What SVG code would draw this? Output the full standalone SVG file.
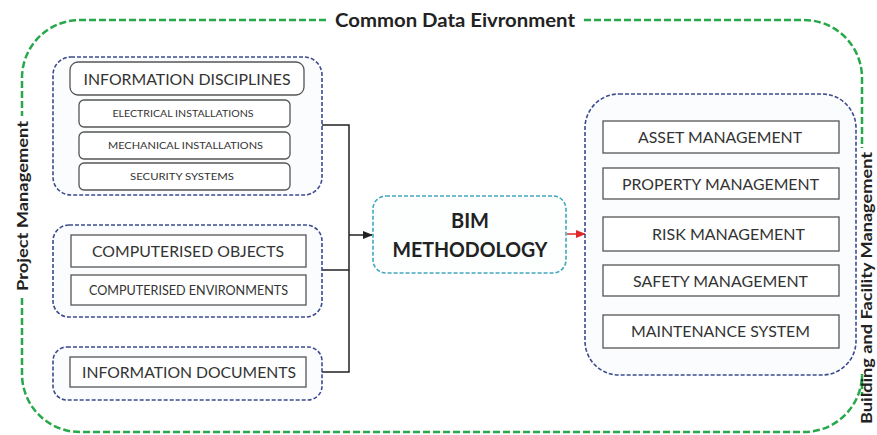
<svg xmlns="http://www.w3.org/2000/svg" width="877" height="435" viewBox="0 0 877 435">
<style>
.cde{fill:none;stroke:#27a84a;stroke-width:2.5;stroke-dasharray:7 3}
.grp{fill:#fbfcfe;stroke:#3d4b8e;stroke-width:1.6;stroke-dasharray:4 2}
.bim{fill:#fdfefe;stroke:#43a7bd;stroke-width:1.6;stroke-dasharray:4 2}
.box{fill:#fff;stroke:#555;stroke-width:1.3}
.t{font-family:Lato,"Open Sans","Liberation Sans",sans-serif;fill:#333;text-anchor:middle}
.lbl{font-family:Lato,"Open Sans","Liberation Sans",sans-serif;font-weight:bold;fill:#222;text-anchor:middle}
.con{fill:none;stroke:#222;stroke-width:1.5}
</style>
<defs>
<marker id="ab" viewBox="0 0 10 10" refX="9" refY="5" markerWidth="7" markerHeight="7" orient="auto"><path d="M0,1 L10,5 L0,9 z" fill="#222"/></marker>
<marker id="ar" viewBox="0 0 10 10" refX="9" refY="5" markerWidth="7" markerHeight="7" orient="auto"><path d="M0,1 L10,5 L0,9 z" fill="#e02a2a"/></marker>
</defs>
<rect width="877" height="435" fill="#fff"/>
<g id="cde">
<path class="cde" d="M326,20 H80 A58,58 0 0 0 22,78 V116"/>
<path class="cde" d="M22,298 V374 A58,58 0 0 0 80,432 H804 A58,58 0 0 0 862,374 V396"/>
<path class="cde" d="M584,20 H804 A58,58 0 0 1 862,78 V148"/>
<text class="lbl" x="455" y="27" font-size="19" textLength="240" lengthAdjust="spacingAndGlyphs">Common Data Eivronment</text>
<text class="lbl" font-size="16" textLength="170" lengthAdjust="spacingAndGlyphs" transform="translate(28,206) rotate(-90)">Project Management</text>
<text class="lbl" font-size="15" textLength="272" lengthAdjust="spacingAndGlyphs" transform="translate(872,288) rotate(-90)">Building and Facility Management</text>
</g>
<g id="connectors">
<path class="con" d="M322,125 H349 V372 H322"/>
<path class="con" d="M322,270 H349"/>
<path class="con" d="M349,235 H372" marker-end="url(#ab)"/>
<path d="M567,234 H585" fill="none" stroke="#e02a2a" stroke-width="1.5" marker-end="url(#ar)"/>
</g>
<g id="disciplines">
<rect class="grp" x="53" y="57" width="269" height="138" rx="18"/>
<rect class="box" x="70" y="62" width="234" height="33" rx="8"/>
<text class="t" x="187" y="84.5" font-size="15.5" textLength="207" lengthAdjust="spacingAndGlyphs">INFORMATION DISCIPLINES</text>
<rect class="box" x="79" y="100" width="211" height="27" rx="5"/>
<text class="t" x="183" y="117" font-size="9.5" textLength="141" lengthAdjust="spacingAndGlyphs">ELECTRICAL  INSTALLATIONS</text>
<rect class="box" x="79" y="132" width="211" height="27" rx="5"/>
<text class="t" x="185.5" y="149" font-size="9.5" textLength="155" lengthAdjust="spacingAndGlyphs">MECHANICAL  INSTALLATIONS</text>
<rect class="box" x="79" y="163" width="211" height="27" rx="5"/>
<text class="t" x="182" y="180" font-size="9.5" textLength="104" lengthAdjust="spacingAndGlyphs">SECURITY SYSTEMS</text>
</g>
<g id="computerised">
<rect class="grp" x="53" y="225" width="269" height="92" rx="16"/>
<rect class="box" x="71" y="235" width="235" height="32"/>
<text class="t" x="188" y="257" font-size="16" textLength="192" lengthAdjust="spacingAndGlyphs">COMPUTERISED OBJECTS</text>
<rect class="box" x="71" y="275" width="235" height="30"/>
<text class="t" x="188.5" y="295" font-size="13.5" textLength="199" lengthAdjust="spacingAndGlyphs">COMPUTERISED ENVIRONMENTS</text>
</g>
<g id="documents">
<rect class="grp" x="53" y="347" width="269" height="53" rx="14"/>
<rect class="box" x="70" y="357" width="236" height="30"/>
<text class="t" x="189" y="378" font-size="16" textLength="214" lengthAdjust="spacingAndGlyphs">INFORMATION DOCUMENTS</text>
</g>
<g id="bim">
<rect class="bim" x="373" y="196" width="193" height="77" rx="13"/>
<text class="lbl" x="470" y="228" font-size="20">BIM</text>
<text class="lbl" x="470" y="257" font-size="20" textLength="155" lengthAdjust="spacingAndGlyphs">METHODOLOGY</text>
</g>
<g id="management">
<rect class="grp" x="585" y="94" width="271" height="281" rx="34"/>
<rect class="box" x="603" y="121" width="236" height="32"/>
<text class="t" x="720" y="143" font-size="16" textLength="164" lengthAdjust="spacingAndGlyphs">ASSET MANAGEMENT</text>
<rect class="box" x="603" y="168" width="236" height="31"/>
<text class="t" x="720.5" y="189.5" font-size="16" textLength="197" lengthAdjust="spacingAndGlyphs">PROPERTY MANAGEMENT</text>
<rect class="box" x="603" y="217" width="236" height="34"/>
<text class="t" x="728.5" y="240" font-size="16" textLength="153" lengthAdjust="spacingAndGlyphs">RISK MANAGEMENT</text>
<rect class="box" x="603" y="265" width="236" height="31"/>
<text class="t" x="720.5" y="286.5" font-size="16" textLength="175" lengthAdjust="spacingAndGlyphs">SAFETY MANAGEMENT</text>
<rect class="box" x="603" y="315" width="236" height="33"/>
<text class="t" x="720.5" y="337" font-size="16" textLength="179" lengthAdjust="spacingAndGlyphs">MAINTENANCE SYSTEM</text>
</g>
</svg>
